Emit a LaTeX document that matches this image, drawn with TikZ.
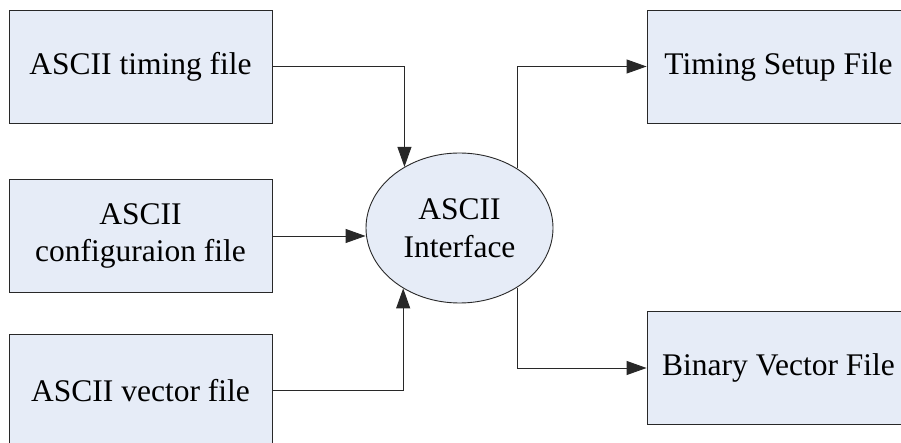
\documentclass[tikz,border=0pt]{standalone}
\usepackage{fontspec}
\setmainfont{Liberation Serif}
\usetikzlibrary{shapes.geometric,arrows.meta}
\definecolor{boxfill}{RGB}{230,236,247}
\definecolor{edge}{RGB}{40,40,40}
\tikzset{
  filebox/.style={draw=edge, fill=boxfill, line width=0.9pt,
    minimum width=263pt, minimum height=113pt, inner sep=0pt,
    align=center, font=\fontsize{31.5}{37.5}\selectfont},
  hub/.style={ellipse, draw=edge, fill=boxfill, line width=0.9pt,
    minimum width=187pt, minimum height=150pt, inner sep=0pt,
    align=center, font=\fontsize{31.5}{37.5}\selectfont},
  flow/.style={draw=edge, line width=0.9pt,
    -{Triangle[length=20pt,width=14pt]}}
}
\begin{document}
\begin{tikzpicture}[x=1pt,y=-1pt]
  \useasboundingbox (0,0) rectangle (901,443);
  \fill[white] (0,0) rectangle (901,443);

  % input files
  \node[filebox] (timing) at (140.5,66.5) {ASCII timing file};
  \node[filebox] (config) at (140.5,236) {ASCII\\configuraion file};
  \node[filebox] (vector) at (140.5,390.5) {ASCII vector file};

  % interface
  \node[hub] (iface) at (459.5,228) {ASCII\\Interface};

  % output files
  \node[filebox] (setup)  at (778.5,66.5) {Timing Setup File};
  \node[filebox] (binary) at (778.5,368) {Binary Vector File};

  % connectors
  \draw[flow] (timing.east) -| (iface.132.6);
  \draw[flow] (config.east) -- (config.east -| iface.west);
  \draw[flow] (vector.east) -| (iface.227.4);
  \draw[flow] (iface.46.2) |- (setup.west);
  \draw[flow] (iface.-46.2) |- (binary.west);
\end{tikzpicture}
\end{document}
